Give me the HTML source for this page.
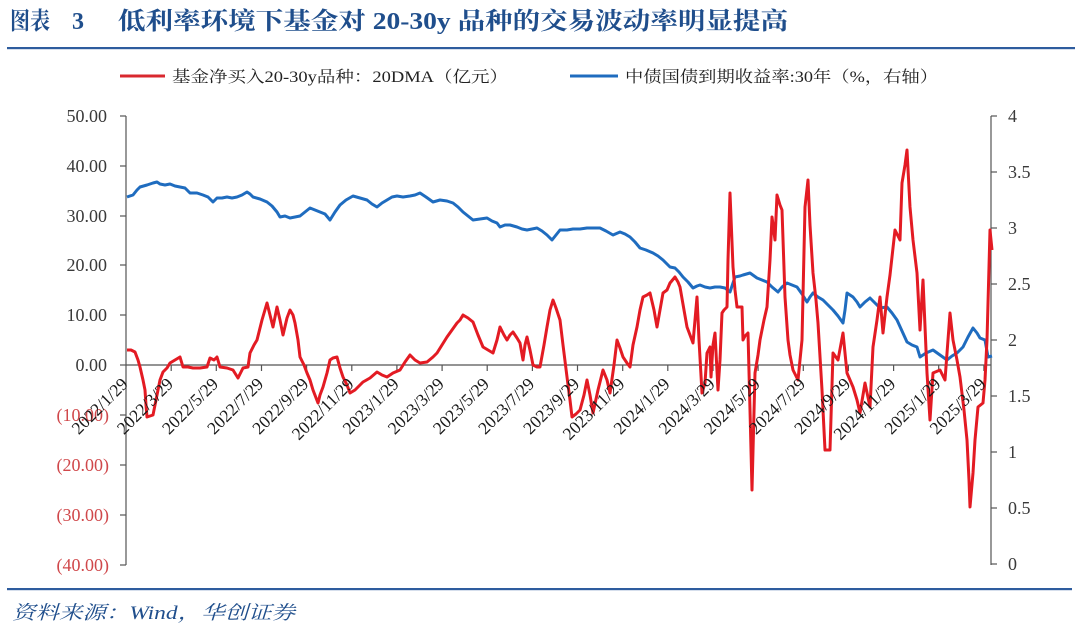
<!DOCTYPE html>
<html>
<head>
<meta charset="utf-8">
<style>
  html,body{margin:0;padding:0;background:#fff;}
  svg{display:block;}
</style>
</head>
<body>
<svg width="1080" height="635" viewBox="0 0 1080 635" xmlns="http://www.w3.org/2000/svg">
  <rect width="1080" height="635" fill="#fff"/>
  <!-- Title -->
  <g fill="#1f4e8c" font-weight="bold" font-family="'Liberation Serif','Noto Serif CJK SC',serif" font-size="24">
    <text x="10" y="29" textLength="40" lengthAdjust="spacingAndGlyphs">图表</text>
    <text x="72" y="29">3</text>
    <text x="118" y="29" textLength="670" lengthAdjust="spacingAndGlyphs">低利率环境下基金对 20-30y 品种的交易波动率明显提高</text>
  </g>
  <rect x="7" y="47" width="1068" height="2.2" fill="#2e5c9e"/>

  <!-- Legend -->
  <line x1="120" y1="76" x2="165" y2="76" stroke="#d9282f" stroke-width="3"/>
  <text x="172" y="82" font-family="'Liberation Serif','Noto Serif CJK SC',serif" font-size="16" fill="#222" textLength="336" lengthAdjust="spacingAndGlyphs">基金净买入20-30y品种：20DMA（亿元）</text>
  <line x1="570" y1="76" x2="618" y2="76" stroke="#1f6cbf" stroke-width="3"/>
  <text x="625" y="82" font-family="'Liberation Serif','Noto Serif CJK SC',serif" font-size="16" fill="#222" textLength="313" lengthAdjust="spacingAndGlyphs">中债国债到期收益率:30年（%，右轴）</text>

  <!-- Axes -->
  <g stroke="#555" stroke-width="1.2" fill="none">
    <line x1="126" y1="116" x2="126" y2="565"/>
    <line x1="991" y1="116" x2="991" y2="565"/>
    <line x1="126" y1="365" x2="991" y2="365"/>
    <!-- left ticks -->
    <line x1="120" y1="116" x2="126" y2="116"/>
    <line x1="120" y1="166" x2="126" y2="166"/>
    <line x1="120" y1="216" x2="126" y2="216"/>
    <line x1="120" y1="265" x2="126" y2="265"/>
    <line x1="120" y1="315" x2="126" y2="315"/>
    <line x1="120" y1="365" x2="126" y2="365"/>
    <line x1="120" y1="415" x2="126" y2="415"/>
    <line x1="120" y1="465" x2="126" y2="465"/>
    <line x1="120" y1="515" x2="126" y2="515"/>
    <line x1="120" y1="565" x2="126" y2="565"/>
    <!-- right ticks -->
    <line x1="991" y1="116" x2="997" y2="116"/>
    <line x1="991" y1="172" x2="997" y2="172"/>
    <line x1="991" y1="228" x2="997" y2="228"/>
    <line x1="991" y1="284" x2="997" y2="284"/>
    <line x1="991" y1="340" x2="997" y2="340"/>
    <line x1="991" y1="396" x2="997" y2="396"/>
    <line x1="991" y1="452" x2="997" y2="452"/>
    <line x1="991" y1="508" x2="997" y2="508"/>
    <line x1="991" y1="564" x2="997" y2="564"/>
    <!-- x ticks -->
    <line x1="171.2" y1="365" x2="171.2" y2="371"/>
    <line x1="216.3" y1="365" x2="216.3" y2="371"/>
    <line x1="261.5" y1="365" x2="261.5" y2="371"/>
    <line x1="306.6" y1="365" x2="306.6" y2="371"/>
    <line x1="351.8" y1="365" x2="351.8" y2="371"/>
    <line x1="396.9" y1="365" x2="396.9" y2="371"/>
    <line x1="442.1" y1="365" x2="442.1" y2="371"/>
    <line x1="487.2" y1="365" x2="487.2" y2="371"/>
    <line x1="532.4" y1="365" x2="532.4" y2="371"/>
    <line x1="577.5" y1="365" x2="577.5" y2="371"/>
    <line x1="622.7" y1="365" x2="622.7" y2="371"/>
    <line x1="667.8" y1="365" x2="667.8" y2="371"/>
    <line x1="713.0" y1="365" x2="713.0" y2="371"/>
    <line x1="758.1" y1="365" x2="758.1" y2="371"/>
    <line x1="803.3" y1="365" x2="803.3" y2="371"/>
    <line x1="848.4" y1="365" x2="848.4" y2="371"/>
    <line x1="893.6" y1="365" x2="893.6" y2="371"/>
    <line x1="938.7" y1="365" x2="938.7" y2="371"/>
    <line x1="983.9" y1="365" x2="983.9" y2="371"/>
  </g>

  <!-- Left labels -->
  <g font-family="'Liberation Serif',serif" font-size="18" text-anchor="end">
    <g fill="#3a3a3a">
      <text x="107" y="122">50.00</text>
      <text x="107" y="172">40.00</text>
      <text x="107" y="222">30.00</text>
      <text x="107" y="271">20.00</text>
      <text x="107" y="321">10.00</text>
      <text x="107" y="371">0.00</text>
    </g>
    <g fill="#d0484b">
      <text x="109" y="421">(10.00)</text>
      <text x="109" y="471">(20.00)</text>
      <text x="109" y="521">(30.00)</text>
      <text x="109" y="571">(40.00)</text>
    </g>
  </g>

  <!-- Right labels -->
  <g font-family="'Liberation Serif',serif" font-size="18" fill="#3a3a3a">
    <text x="1008" y="122">4</text>
    <text x="1008" y="178">3.5</text>
    <text x="1008" y="234">3</text>
    <text x="1008" y="290">2.5</text>
    <text x="1008" y="346">2</text>
    <text x="1008" y="402">1.5</text>
    <text x="1008" y="458">1</text>
    <text x="1008" y="514">0.5</text>
    <text x="1008" y="570">0</text>
  </g>

  <!-- Series -->
  <polyline fill="none" stroke="#1f6cbf" stroke-width="3" stroke-linejoin="round" points="127,197 133,195 137,190 140,187 147,185 153,183 157,182 160,184 165,185 170,184 175,186 180,187 185,188 190,193 197,193 203,195 208,197 213,202 217,198 222,198 227,197 232,198 237,197 242,195 247,192 250,194 253,197 260,199 267,202 272,206 277,212 280,217 285,216 290,218 295,217 300,216 305,212 310,208 315,210 320,212 325,214 330,220 335,212 340,205 346,200 353,196 360,198 367,200 372,204 377,207 382,203 387,200 392,197 397,196 403,197 410,196 415,195 420,193 426,197 433,202 440,200 447,201 453,203 458,207 463,212 468,216 473,220 480,219 487,218 492,221 497,223 500,227 505,225 510,225 517,227 522,229 527,230 532,229 537,228 542,231 547,235 552,240 556,235 560,230 567,230 573,229 580,229 587,228 593,228 600,228 606,231 613,235 620,232 625,234 630,237 635,242 640,248 646,250 653,253 658,256 663,260 670,267 675,268 679,272 683,277 688,282 693,288 697,286 700,285 705,287 710,288 715,287 720,287 725,288 730,292 733,283 735,277 740,276 743,275 750,273 757,278 762,280 767,282 772,287 778,292 782,287 787,283 792,285 797,287 802,294 807,302 810,297 813,293 818,297 823,300 828,305 833,310 838,316 843,323 845,310 847,293 850,295 853,297 857,302 860,307 865,302 870,298 875,303 880,308 887,307 892,313 897,320 902,331 907,342 912,345 917,347 920,357 926,353 933,350 940,355 947,360 952,356 957,353 963,347 968,337 973,328 977,333 980,338 985,340 988,357 992,356"/>

  <polyline fill="none" stroke="#e31b23" stroke-width="3" stroke-linejoin="round" points="127,350 131,350 135,352 138,360 140,367 143,380 145,390 146,405 147,417 150,416 153,415 156,400 160,380 163,372 167,368 170,363 175,360 180,357 183,367 188,367 193,368 200,368 207,367 210,358 214,360 217,357 220,367 227,368 233,370 238,378 243,368 248,367 250,353 254,345 257,340 262,320 267,303 270,315 273,327 277,307 280,320 283,335 287,318 290,310 293,315 295,323 298,340 300,357 304,365 307,373 310,380 313,390 318,403 320,395 323,387 327,373 330,360 333,358 337,357 340,368 343,377 347,385 350,393 355,390 360,385 363,382 370,378 377,372 382,375 387,377 393,373 400,370 405,362 410,355 415,360 420,363 427,362 433,357 437,353 442,345 447,337 452,330 457,323 460,320 463,315 468,318 473,322 478,335 483,347 488,350 493,353 497,340 500,327 504,335 507,340 510,335 513,332 517,338 520,343 523,360 525,345 527,337 530,350 533,365 537,367 540,367 544,345 547,327 550,310 553,300 556,308 560,320 563,345 567,377 570,400 572,417 576,414 580,410 584,395 587,380 590,395 593,413 598,390 603,370 607,380 610,393 614,365 617,340 620,348 623,357 627,363 630,367 633,345 637,327 640,310 643,297 647,295 650,293 654,310 657,327 660,310 663,293 667,290 670,283 675,277 678,282 680,287 684,310 687,327 690,335 693,343 697,297 699,340 702,393 705,383 707,353 710,347 711,377 713,345 715,333 718,390 720,360 722,313 724,310 727,307 728,260 730,193 733,267 735,290 737,307 742,307 743,340 745,336 748,333 750,410 752,490 755,373 758,355 760,340 764,320 767,307 770,260 772,217 775,240 777,195 780,205 782,210 785,297 788,340 790,355 793,370 798,380 800,360 802,340 805,207 808,180 810,225 813,273 816,300 818,323 822,390 825,450 830,450 833,353 838,360 843,333 847,373 850,380 853,387 857,400 860,413 865,383 870,407 873,347 877,320 880,297 883,333 887,297 890,275 892,257 895,230 900,240 902,183 905,165 907,150 910,207 913,240 917,273 920,330 923,280 927,373 930,420 933,373 940,370 945,380 950,313 953,340 957,360 960,377 964,410 967,440 969,480 970,507 973,473 975,440 978,407 983,403 985,380 987,340 990,230 992,250"/>

  <!-- X labels -->
  <g font-family="'Liberation Serif',serif" font-size="17.5" fill="#1a1a1a" text-anchor="end">
    <text transform="translate(129,385) rotate(-45)">2022/1/29</text>
    <text transform="translate(174.2,385) rotate(-45)">2022/3/29</text>
    <text transform="translate(219.3,385) rotate(-45)">2022/5/29</text>
    <text transform="translate(264.5,385) rotate(-45)">2022/7/29</text>
    <text transform="translate(309.6,385) rotate(-45)">2022/9/29</text>
    <text transform="translate(354.8,385) rotate(-45)">2022/11/29</text>
    <text transform="translate(399.9,385) rotate(-45)">2023/1/29</text>
    <text transform="translate(445.1,385) rotate(-45)">2023/3/29</text>
    <text transform="translate(490.2,385) rotate(-45)">2023/5/29</text>
    <text transform="translate(535.4,385) rotate(-45)">2023/7/29</text>
    <text transform="translate(580.5,385) rotate(-45)">2023/9/29</text>
    <text transform="translate(625.7,385) rotate(-45)">2023/11/29</text>
    <text transform="translate(670.8,385) rotate(-45)">2024/1/29</text>
    <text transform="translate(716.0,385) rotate(-45)">2024/3/29</text>
    <text transform="translate(761.1,385) rotate(-45)">2024/5/29</text>
    <text transform="translate(806.3,385) rotate(-45)">2024/7/29</text>
    <text transform="translate(851.4,385) rotate(-45)">2024/9/29</text>
    <text transform="translate(896.6,385) rotate(-45)">2024/11/29</text>
    <text transform="translate(941.7,385) rotate(-45)">2025/1/29</text>
    <text transform="translate(986.9,385) rotate(-45)">2025/3/29</text>
  </g>

  <!-- Bottom rule & source -->
  <rect x="7" y="588" width="1065" height="2.2" fill="#2e5c9e"/>
  <text x="12" y="619" font-family="'Liberation Serif','Noto Serif CJK SC',serif" font-style="italic" font-size="19" fill="#1f4e8c" textLength="283" lengthAdjust="spacingAndGlyphs">资料来源：Wind，华创证券</text>
</svg>
</body>
</html>
